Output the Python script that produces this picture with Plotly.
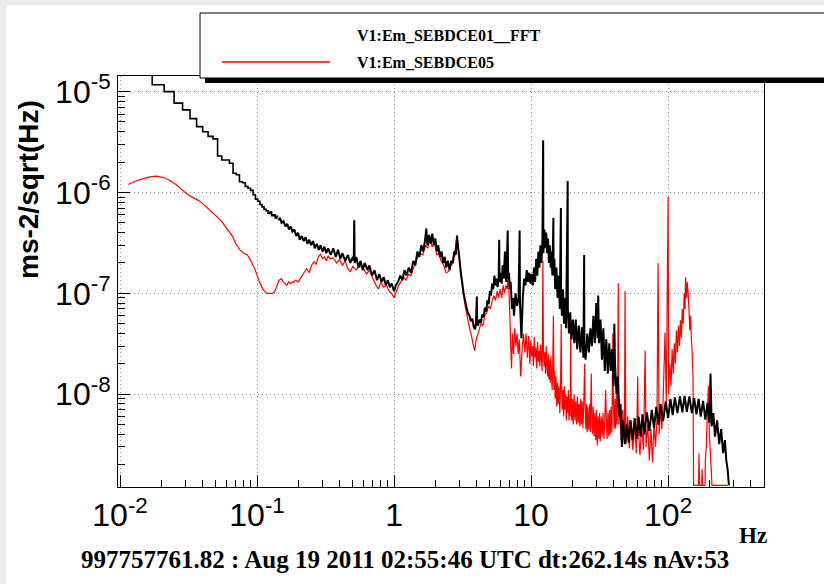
import plotly.graph_objects as go

# ---- data (Hz, ms-2/sqrt(Hz)) ----
# low-frequency bins of the FFT channel, drawn as a staircase (bin edges)
black_bin_hz = [
    0.0105, 0.01335, 0.01717, 0.02098, 0.0248, 0.0286, 0.0324, 0.0362, 0.0401, 0.0439,
    0.0477, 0.0515, 0.0553, 0.0591, 0.0629, 0.0668, 0.0706, 0.0744, 0.0782, 0.082,
    0.0858, 0.0896, 0.0935, 0.0973, 0.1011, 0.1049, 0.1087, 0.1125, 0.1163, 0.1202,
    0.124, 0.1278, 0.1316, 0.1354, 0.1392, 0.143,
]
black_bin_asd = [
    1.8e-5, 1.6e-5, 1.17e-5, 1.0e-5, 7.7e-6, 6.6e-6, 5.4e-6, 4.5e-6, 4.0e-6, 3.6e-6,
    3.4e-6, 2.3e-6, 2.1e-6, 2.1e-6, 1.95e-6, 1.55e-6, 1.5e-6, 1.28e-6, 1.25e-6, 1.15e-6,
    1.1e-6, 1.05e-6, 9.5e-7, 8.6e-7, 8.2e-7, 7.6e-7, 7.2e-7, 6.8e-7, 6.6e-7, 6.2e-7,
    6.4e-7, 5.9e-7, 6.0e-7, 5.6e-7, 5.8e-7, 5.8e-7,
]

black_hz = [
    0.143, 0.147, 0.151, 0.156, 0.161, 0.166, 0.171, 0.176, 0.181, 0.187,
    0.193, 0.199, 0.205, 0.212, 0.219, 0.226, 0.233, 0.24, 0.248, 0.256,
    0.264, 0.273, 0.282, 0.291, 0.3, 0.31, 0.32, 0.33, 0.345, 0.36,
    0.375, 0.39, 0.405, 0.42, 0.44, 0.46, 0.48, 0.5, 0.508, 0.512,
    0.516, 0.53, 0.55, 0.57, 0.59, 0.61, 0.64, 0.66, 0.69, 0.72,
    0.75, 0.78, 0.81, 0.84, 0.87, 0.9, 0.93, 0.96, 1.0, 1.03,
    1.07, 1.11, 1.15, 1.19, 1.23, 1.28, 1.33, 1.38, 1.43, 1.48,
    1.53, 1.58, 1.63, 1.68, 1.72, 1.75, 1.8, 1.85, 1.9, 1.95,
    2.0, 2.05, 2.1, 2.16, 2.22, 2.28, 2.34, 2.4, 2.47, 2.54,
    2.61, 2.68, 2.75, 2.82, 2.88, 2.94, 3.0, 3.07, 3.15, 3.22,
    3.3, 3.38, 3.46, 3.55, 3.64, 3.73, 3.82, 3.9, 3.96, 4.02,
    4.04, 4.1, 4.2, 4.3, 4.4, 4.5, 4.6, 4.7, 4.8, 4.9,
    5.0, 5.1, 5.2, 5.3, 5.4, 5.5, 5.6, 5.7, 5.8, 5.85,
    5.88, 6.0, 6.1, 6.2, 6.3, 6.45, 6.5, 6.6, 6.75, 6.8,
    6.9, 7.0, 7.1, 7.25, 7.4, 7.5, 7.7, 7.9, 8.1, 8.25,
    8.3, 8.5, 8.7, 8.9, 9.1, 9.3, 9.5, 9.7, 9.9, 10.1,
    10.3, 10.5, 10.7, 10.9, 11.1, 11.3, 11.5, 11.7, 11.9, 12.1,
    12.25, 12.3, 12.5, 12.7, 12.9, 13.1, 13.3, 13.5, 13.7, 13.9,
    14.1, 14.3, 14.55, 14.6, 14.8, 15.0, 15.3, 15.6, 15.9, 16.2,
    16.5, 16.55, 16.8, 17.1, 17.4, 17.7, 18.0, 18.5, 18.55, 18.9,
    19.3, 19.7, 20.2, 20.7, 21.2, 21.7, 22.3, 22.9, 23.5, 24.1,
    24.4, 24.5, 25.0, 25.7, 26.4, 27.1, 27.8, 28.5, 29.2, 29.9,
    30.6, 30.9, 31.3, 32.1, 32.9, 33.7, 34.5, 35.4, 36.3, 37.2,
    38.1, 39.0, 40.0, 40.5, 41.0, 42.0, 43.0, 44.0, 45.0, 46.0,
    47.0, 48.5, 50.0, 51.5, 53.0, 55.0, 57.0, 59.0, 61.0, 63.0,
    65.0, 67.0, 70.0, 73.0, 76.0, 79.0, 82.0, 85.0, 88.0, 92.0,
    96.0, 100.0, 104.0, 108.0, 112.0, 117.0, 122.0, 127.0, 132.0, 137.0,
    143.0, 149.0, 155.0, 161.0, 167.0, 173.0, 180.0, 187.0, 194.0, 200.0,
    204.0, 208.0, 214.0, 220.0, 228.0, 236.0, 244.0, 252.0, 260.0, 266.0,
    272.0, 278.0,
]
black_asd = [
    5.3e-7, 5.6e-7, 5.0e-7, 5.2e-7, 4.6e-7, 4.9e-7, 4.3e-7, 4.6e-7, 4.1e-7, 4.3e-7,
    3.7e-7, 4.0e-7, 3.4e-7, 3.7e-7, 3.3e-7, 3.6e-7, 3.1e-7, 3.4e-7, 3.0e-7, 3.3e-7,
    2.8e-7, 3.1e-7, 2.7e-7, 3.0e-7, 2.6e-7, 2.9e-7, 2.5e-7, 2.8e-7, 2.4e-7, 2.8e-7,
    2.3e-7, 2.7e-7, 2.2e-7, 2.5e-7, 2.1e-7, 2.4e-7, 2.0e-7, 2.3e-7, 2.1e-7, 5.3e-7,
    2.0e-7, 2.3e-7, 1.8e-7, 2.1e-7, 1.7e-7, 2.0e-7, 1.7e-7, 1.9e-7, 1.5e-7, 1.7e-7,
    1.35e-7, 1.55e-7, 1.3e-7, 1.45e-7, 1.2e-7, 1.35e-7, 1.15e-7, 1.25e-7, 1.05e-7, 1.2e-7,
    1.3e-7, 1.5e-7, 1.35e-7, 1.7e-7, 1.5e-7, 1.8e-7, 1.6e-7, 2.1e-7, 1.9e-7, 2.6e-7,
    2.3e-7, 3.0e-7, 2.6e-7, 3.3e-7, 4.4e-7, 3.0e-7, 3.8e-7, 3.1e-7, 3.9e-7, 3.0e-7,
    3.5e-7, 2.6e-7, 3.0e-7, 2.3e-7, 2.6e-7, 2.0e-7, 2.3e-7, 1.8e-7, 2.1e-7, 1.7e-7,
    2.1e-7, 2.0e-7, 2.6e-7, 2.4e-7, 3.7e-7, 2.8e-7, 2.2e-7, 1.6e-7, 1.25e-7, 1.0e-7,
    8.5e-8, 7.2e-8, 6.4e-8, 6.0e-8, 5.3e-8, 5.6e-8, 4.6e-8, 4.4e-8, 5.0e-8, 9.3e-8,
    5.0e-8, 4.8e-8, 5.5e-8, 5.1e-8, 6.2e-8, 5.8e-8, 7.2e-8, 6.6e-8, 8.5e-8, 7.8e-8,
    1.05e-7, 9.5e-8, 1.25e-7, 1.1e-7, 1.5e-7, 1.2e-7, 1.4e-7, 1.15e-7, 1.4e-7, 3.4e-7,
    1.3e-7, 1.6e-7, 1.25e-7, 1.9e-7, 1.4e-7, 2.6e-7, 1.5e-7, 1.3e-7, 4.2e-7, 1.4e-7,
    1.6e-7, 1.1e-7, 1.3e-7, 7.0e-8, 9.0e-8, 6.0e-8, 1.0e-7, 7.5e-8, 9.0e-8, 4.2e-7,
    8.0e-8, 3.6e-8, 9.0e-8, 1.4e-7, 1.2e-7, 1.7e-7, 1.3e-7, 1.6e-7, 1.25e-7, 1.55e-7,
    1.2e-7, 1.8e-7, 1.3e-7, 2.2e-7, 1.5e-7, 2.6e-7, 1.8e-7, 3.0e-7, 2.0e-7, 3.3e-7,
    3.3e-6, 2.5e-7, 4.3e-7, 2.8e-7, 4.0e-7, 2.5e-7, 3.5e-7, 2.0e-7, 3.0e-7, 1.8e-7,
    2.6e-7, 1.5e-7, 5.6e-7, 1.5e-7, 2.2e-7, 1.1e-7, 1.8e-7, 9.0e-8, 1.5e-7, 7.0e-8,
    7.0e-7, 1.0e-7, 6.0e-8, 1.1e-7, 5.0e-8, 9.0e-8, 4.5e-8, 1.3e-6, 7.0e-8, 4.0e-8,
    6.5e-8, 3.5e-8, 5.5e-8, 3.2e-8, 5.5e-8, 2.8e-8, 4.8e-8, 2.6e-8, 4.6e-8, 2.3e-8,
    2.4e-7, 3.0e-8, 2.2e-8, 4.0e-8, 2.6e-8, 4.5e-8, 3.0e-8, 6.0e-8, 3.2e-8, 8.0e-8,
    3.6e-8, 9.5e-8, 3.2e-8, 5.5e-8, 2.2e-8, 4.5e-8, 1.7e-8, 3.5e-8, 1.6e-8, 3.2e-8,
    1.7e-8, 2.8e-8, 1.2e-8, 5.0e-8, 2.0e-8, 1.0e-8, 1.5e-8, 6.0e-9, 8.0e-9, 3.0e-9,
    5.5e-9, 3.2e-9, 5.0e-9, 3.3e-9, 5.5e-9, 3.5e-9, 5.8e-9, 3.6e-9, 6.0e-9, 3.8e-9,
    6.3e-9, 4.0e-9, 6.6e-9, 4.3e-9, 7.0e-9, 4.6e-9, 7.5e-9, 5.0e-9, 8.0e-9, 5.4e-9,
    8.5e-9, 5.8e-9, 9.0e-9, 6.2e-9, 9.3e-9, 6.5e-9, 9.5e-9, 6.6e-9, 9.6e-9, 6.7e-9,
    9.5e-9, 6.5e-9, 9.2e-9, 6.3e-9, 9.0e-9, 6.0e-9, 8.6e-9, 5.6e-9, 8.2e-9, 5.2e-9,
    1.6e-8, 4.8e-9, 6.5e-9, 3.8e-9, 5.5e-9, 3.2e-9, 4.5e-9, 2.6e-9, 3.5e-9, 2.2e-9,
    1.8e-9, 1.25e-9,
]

red_hz = [
    0.0115, 0.013, 0.015, 0.0165, 0.0185, 0.021, 0.0235, 0.026, 0.028, 0.031,
    0.034, 0.037, 0.04, 0.045, 0.05, 0.055, 0.06, 0.066, 0.07, 0.075,
    0.08, 0.085, 0.09, 0.097, 0.103, 0.108, 0.113, 0.118, 0.125, 0.13,
    0.135, 0.14, 0.145, 0.15, 0.155, 0.16, 0.165, 0.17, 0.175, 0.18,
    0.185, 0.19, 0.2, 0.21, 0.22, 0.23, 0.24, 0.25, 0.26, 0.27,
    0.28, 0.29, 0.3, 0.31, 0.32, 0.33, 0.34, 0.36, 0.38, 0.4,
    0.42, 0.44, 0.46, 0.48, 0.5, 0.53, 0.56, 0.6, 0.63, 0.66,
    0.7, 0.74, 0.77, 0.8, 0.84, 0.88, 0.92, 0.96, 1.0, 1.04,
    1.08, 1.12, 1.17, 1.22, 1.28, 1.33, 1.4, 1.47, 1.55, 1.62,
    1.7, 1.76, 1.82, 1.9, 1.97, 2.05, 2.12, 2.2, 2.3, 2.4,
    2.5, 2.6, 2.7, 2.8, 2.88, 2.95, 3.02, 3.1, 3.2, 3.3,
    3.4, 3.5, 3.6, 3.7, 3.8, 3.88, 3.95, 4.05, 4.15, 4.3,
    4.45, 4.6, 4.75, 4.9, 5.05, 5.2, 5.35, 5.5, 5.65, 5.8,
    5.95, 6.1, 6.25, 6.4, 6.55, 6.7, 6.8, 6.9, 7.0, 7.1,
    7.2, 7.3, 7.45, 7.6, 7.75, 7.9, 8.05, 8.2, 8.4, 8.6,
    8.8, 9.0, 9.2, 9.4, 9.6, 9.8, 9.95, 10.1, 10.25, 10.4,
    10.55, 10.7, 10.85, 11.0, 11.15, 11.3, 11.45, 11.6, 11.75, 11.9,
    12.05, 12.2, 12.3, 12.45, 12.6, 12.75, 12.9, 13.05, 13.2, 13.35,
    13.5, 13.65, 13.8, 13.95, 14.1, 14.25, 14.4, 14.55, 14.7, 14.85,
    15.0, 15.2, 15.4, 15.6, 15.8, 16.0, 16.2, 16.4, 16.6, 16.7,
    16.9, 17.1, 17.3, 17.5, 17.7, 17.9, 18.1, 18.3, 18.5, 18.7,
    18.9, 19.1, 19.3, 19.5, 19.6, 19.8, 20.0, 20.3, 20.6, 20.9,
    21.2, 21.5, 21.8, 22.1, 22.4, 22.7, 23.0, 23.3, 23.6, 23.9,
    24.2, 24.6, 24.8, 25.1, 25.4, 25.7, 26.0, 26.4, 26.8, 27.1,
    27.5, 27.7, 28.0, 28.4, 28.8, 29.2, 29.6, 30.0, 30.4, 30.8,
    31.2, 31.6, 32.0, 32.5, 33.0, 33.5, 34.0, 34.5, 35.0, 35.4,
    35.9, 36.4, 36.9, 37.4, 37.9, 38.4, 38.9, 39.5, 39.9, 40.4,
    40.9, 41.4, 41.9, 42.4, 42.9, 43.3, 43.7, 44.2, 45.3, 46.6,
    48.0, 48.5, 49.2, 50.7, 52.2, 53.7, 55.3, 57.0, 58.7, 60.0,
    60.5, 62.3, 64.2, 66.1, 68.0, 69.0, 71.0, 73.0, 75.0, 77.0,
    79.0, 81.0, 83.0, 84.5, 86.0, 88.0, 90.0, 92.0, 95.0, 97.0,
    100.0, 101.0, 103.0, 105.0, 107.0, 109.0, 111.0, 113.0, 115.0, 117.0,
    119.0, 121.0, 123.0, 125.0, 127.0, 129.0, 131.0, 133.0, 134.0, 136.0,
    138.0, 140.0, 142.0, 144.0, 146.0, 148.0, 150.0, 152.0, 153.5, 167.0,
    168.0, 170.0, 176.0, 177.0, 179.0, 186.0, 187.0, 190.0, 193.0, 197.0,
    200.0, 204.0, 209.0, 273.0,
]
red_asd = [
    1.2e-6, 1.3e-6, 1.38e-6, 1.43e-6, 1.45e-6, 1.4e-6, 1.3e-6, 1.18e-6, 1.08e-6, 9.6e-7,
    8.9e-7, 8.4e-7, 7.8e-7, 6.7e-7, 5.9e-7, 5.2e-7, 4.4e-7, 3.7e-7, 3.1e-7, 2.7e-7,
    2.5e-7, 2.4e-7, 2.1e-7, 1.7e-7, 1.35e-7, 1.16e-7, 1.05e-7, 1.0e-7, 1.0e-7, 1.0e-7,
    1.05e-7, 1.2e-7, 1.35e-7, 1.4e-7, 1.3e-7, 1.25e-7, 1.2e-7, 1.3e-7, 1.25e-7, 1.3e-7,
    1.28e-7, 1.35e-7, 1.3e-7, 1.45e-7, 1.6e-7, 1.75e-7, 1.6e-7, 1.9e-7, 2.05e-7, 1.95e-7,
    2.3e-7, 2.45e-7, 2.2e-7, 2.3e-7, 2.1e-7, 2.35e-7, 2.2e-7, 2.25e-7, 2.0e-7, 2.15e-7,
    1.9e-7, 2.1e-7, 1.75e-7, 1.65e-7, 1.85e-7, 1.7e-7, 1.9e-7, 1.75e-7, 1.55e-7, 1.7e-7,
    1.4e-7, 1.2e-7, 1.1e-7, 1.3e-7, 1.15e-7, 1.2e-7, 1.05e-7, 1.0e-7, 9.0e-8, 1.05e-7,
    1.2e-7, 1.3e-7, 1.45e-7, 1.35e-7, 1.55e-7, 1.5e-7, 1.85e-7, 2.2e-7, 2.5e-7, 2.4e-7,
    3.0e-7, 2.8e-7, 3.4e-7, 2.9e-7, 3.2e-7, 2.4e-7, 2.5e-7, 2.1e-7, 1.9e-7, 1.6e-7,
    1.65e-7, 1.9e-7, 2.0e-7, 2.8e-7, 3.8e-7, 2.7e-7, 2.0e-7, 1.4e-7, 1.0e-7, 7.5e-8,
    6.2e-8, 5.0e-8, 4.2e-8, 3.6e-8, 3.0e-8, 2.7e-8, 3.3e-8, 3.8e-8, 4.2e-8, 5.0e-8,
    4.8e-8, 6.0e-8, 6.5e-8, 7.5e-8, 7.0e-8, 8.5e-8, 9.5e-8, 8.5e-8, 1.05e-7, 9.0e-8,
    1.1e-7, 9.0e-8, 1.2e-7, 1.0e-7, 1.2e-7, 1.1e-7, 1.6e-7, 1.0e-7, 6.0e-8, 3.0e-8,
    1.8e-8, 4.0e-8, 2.5e-8, 4.5e-8, 3.0e-8, 4.0e-8, 2.5e-8, 3.5e-8, 1.5e-8, 2.8e-8,
    4.0e-8, 2.6e-8, 4.0e-8, 2.3e-8, 3.8e-8, 2.0e-8, 3.4e-8, 2.4e-8, 3.0e-8, 1.9e-8,
    3.7e-8, 2.3e-8, 2.9e-8, 1.8e-8, 3.3e-8, 2.1e-8, 2.7e-8, 1.9e-8, 3.1e-8, 2.2e-8,
    1.7e-8, 2.1e-7, 2.8e-8, 1.9e-8, 2.6e-8, 1.6e-8, 3.0e-8, 1.9e-8, 1.5e-8, 2.5e-8,
    1.4e-8, 2.2e-8, 1.3e-8, 2.4e-8, 1.5e-8, 1.1e-8, 2.0e-8, 6.0e-8, 1.1e-8, 1.7e-8,
    9.0e-9, 1.5e-8, 7.5e-9, 1.3e-8, 8.0e-9, 1.2e-8, 6.5e-9, 1.1e-8, 5.0e-8, 1.2e-8,
    7.0e-9, 1.1e-8, 6.0e-9, 1.2e-8, 7.0e-9, 1.0e-8, 5.5e-9, 9.5e-9, 6.5e-9, 1.1e-8,
    5.5e-9, 9.0e-9, 6.0e-9, 5.0e-8, 1.0e-8, 5.5e-9, 9.0e-9, 5.0e-9, 1.0e-8, 5.5e-9,
    8.5e-9, 5.0e-9, 9.5e-9, 5.2e-9, 8.0e-9, 4.8e-9, 9.0e-9, 5.0e-9, 8.5e-9, 4.6e-9,
    7.5e-9, 2.0e-8, 8.0e-9, 4.5e-9, 8.0e-9, 4.2e-9, 7.5e-9, 4.4e-9, 8.0e-9, 4.2e-9,
    1.6e-8, 7.0e-9, 4.0e-9, 7.5e-9, 3.8e-9, 6.5e-9, 3.5e-9, 7.0e-9, 3.1e-9, 6.0e-9,
    3.6e-9, 6.5e-9, 3.4e-9, 6.0e-9, 3.8e-9, 6.5e-9, 3.6e-9, 5.5e-9, 1.1e-8, 6.0e-9,
    3.6e-9, 6.5e-9, 3.8e-9, 7.0e-9, 4.0e-9, 7.5e-9, 4.2e-9, 4.0e-8, 8.0e-9, 4.5e-9,
    9.0e-9, 4.6e-9, 1.0e-8, 5.0e-9, 1.1e-8, 1.26e-7, 5.0e-9, 9.0e-9, 3.5e-9, 7.0e-9,
    3.2e-9, 1.05e-7, 3.2e-9, 6.0e-9, 2.9e-9, 5.5e-9, 2.8e-9, 5.0e-9, 2.6e-9, 1.5e-8,
    4.8e-9, 2.5e-9, 5.0e-9, 2.8e-9, 2.7e-8, 3.0e-9, 5.0e-9, 2.2e-9, 4.5e-9, 2.1e-9,
    5.0e-9, 3.0e-9, 6.0e-9, 2.0e-7, 4.0e-9, 7.0e-9, 4.5e-9, 9.0e-9, 4.1e-8, 8.0e-9,
    9.0e-7, 1.0e-8, 2.0e-8, 1.2e-8, 2.8e-8, 1.6e-8, 3.2e-8, 2.0e-8, 4.3e-8, 2.6e-8,
    4.8e-8, 3.0e-8, 5.4e-8, 3.6e-8, 7.0e-8, 5.0e-8, 1.0e-7, 7.0e-8, 1.45e-7, 9.0e-8,
    1.3e-7, 1.0e-7, 7.0e-8, 4.3e-8, 6.0e-8, 3.5e-8, 2.5e-8, 1.5e-8, 1.25e-9, 1.25e-9,
    2.6e-9, 1.25e-9, 1.25e-9, 1.8e-9, 1.25e-9, 1.25e-9, 2.2e-9, 3.0e-9, 6.0e-9, 1.2e-8,
    4.0e-9, 2.5e-9, 1.25e-9, 1.25e-9,
]

x_ticks = [0.01, 0.1, 1, 10, 100]
x_ticktext = ["10<sup>-2</sup>", "10<sup>-1</sup>", "1", "10", "10<sup>2</sup>"]
y_ticks = [1e-8, 1e-7, 1e-6, 1e-5]
y_ticktext = ["10<sup>-8</sup>", "10<sup>-7</sup>", "10<sup>-6</sup>", "10<sup>-5</sup>"]
x_minor = [m * d for d in [0.01, 0.1, 1, 10] for m in range(2, 10)] + [200, 300, 400]
y_minor = [m * d for d in [1e-9, 1e-8, 1e-7, 1e-6] for m in range(2, 10)]

legend_names = ["V1:Em_SEBDCE01__FFT", "V1:Em_SEBDCE05"]
bottom_title = "997757761.82 : Aug 19 2011 02:55:46 UTC dt:262.14s nAv:53"

# pixel -> paper helpers for the decorations (plot area 118..764 x 76..487)
L, R, T, B = 118, 764, 76, 487
def px(x):
    return (x - L) / (R - L)
def py(y):
    return (B - y) / (B - T)

fig = go.Figure()

fig.add_trace(go.Scatter(x = red_hz, y = red_asd, name = legend_names[1], mode = "lines",
                         line = dict(color = "#ff0000", width = 1.2, simplify = False)))
fig.add_trace(go.Scatter(x = black_bin_hz, y = black_bin_asd, name = legend_names[0], mode = "lines",
                         line = dict(color = "black", width = 1.6, shape = "hv", simplify = False)))
fig.add_trace(go.Scatter(x = black_hz, y = black_asd, name = legend_names[0], mode = "lines",
                         line = dict(color = "black", width = 2, simplify = False)))

axis_font = dict(family = "Liberation Sans, Arial", size = 32, color = "black")
common = dict(type = "log", tickmode = "array",
              ticks = "inside", ticklen = 12, tickwidth = 1, tickcolor = "black",
              tickfont = axis_font,
              showgrid = True, gridcolor = "#8c8c8c", griddash = "1px,3px", gridwidth = 1,
              showline = True, linecolor = "black", linewidth = 1, mirror = True,
              zeroline = False, layer = "below traces")
fig.update_xaxes(range = [-2.015, 2.70], tickvals = x_ticks, ticktext = x_ticktext,
                 minor = dict(tickmode = "array", tickvals = x_minor, ticks = "inside",
                              ticklen = 7, tickwidth = 1, tickcolor = "black", showgrid = False),
                 **common)
fig.update_yaxes(range = [-8.92, -4.845], tickvals = y_ticks, ticktext = y_ticktext,
                 minor = dict(tickmode = "array", tickvals = y_minor, ticks = "inside",
                              ticklen = 7, tickwidth = 1, tickcolor = "black", showgrid = False),
                 **common)

shapes = [
    # window border strips
    dict(type = "rect", xref = "paper", yref = "paper", x0 = px(-5), x1 = px(6), y0 = py(590), y1 = py(-5),
         fillcolor = "#ebebeb", line = dict(width = 0), layer = "above"),
    dict(type = "rect", xref = "paper", yref = "paper", x0 = px(-5), x1 = px(830), y0 = py(5), y1 = py(-5),
         fillcolor = "#ebebeb", line = dict(width = 0), layer = "above"),
    # legend shadow and box
    dict(type = "rect", xref = "paper", yref = "paper", x0 = px(205), x1 = px(830), y0 = py(83), y1 = py(20),
         fillcolor = "black", line = dict(width = 0), layer = "above"),
    dict(type = "rect", xref = "paper", yref = "paper", x0 = px(200), x1 = px(830), y0 = py(78), y1 = py(13),
         fillcolor = "white", line = dict(color = "black", width = 1), layer = "above"),
    # legend sample line for the red trace
    dict(type = "line", xref = "paper", yref = "paper", x0 = px(222), x1 = px(330), y0 = py(62), y1 = py(62),
         line = dict(color = "#ff0000", width = 1.5), layer = "above"),
]

serif = "Liberation Serif, Times New Roman"
annotations = [
    dict(text = "<b>ms-2/sqrt(Hz)</b>", textangle = -90, x = px(28), y = py(190),
         font = dict(family = "Liberation Sans, Arial", size = 28, color = "black")),
    dict(text = "<b>Hz</b>", x = px(753), y = py(535),
         font = dict(family = serif, size = 23, color = "black")),
    dict(text = "<b>" + bottom_title + "</b>", x = px(405), y = py(559),
         font = dict(family = serif, size = 25, color = "black")),
    dict(text = "<b>" + legend_names[0] + "</b>", x = px(355), y = py(35), xanchor = "left",
         font = dict(family = serif, size = 16, color = "black")),
    dict(text = "<b>" + legend_names[1] + "</b>", x = px(355), y = py(62), xanchor = "left",
         font = dict(family = serif, size = 16, color = "black")),
]
for a in annotations:
    a.setdefault("xanchor", "center")
    a.update(xref = "paper", yref = "paper", showarrow = False, yanchor = "middle")

fig.update_layout(width = 824, height = 584,
                  margin = dict(l = L, r = 824 - R, t = T, b = 584 - B),
                  paper_bgcolor = "white", plot_bgcolor = "white",
                  showlegend = False,
                  shapes = shapes, annotations = annotations)

fig.write_html("out.html", config = dict(displayModeBar = False),
               post_script = "document.body.style.margin = '0';")
